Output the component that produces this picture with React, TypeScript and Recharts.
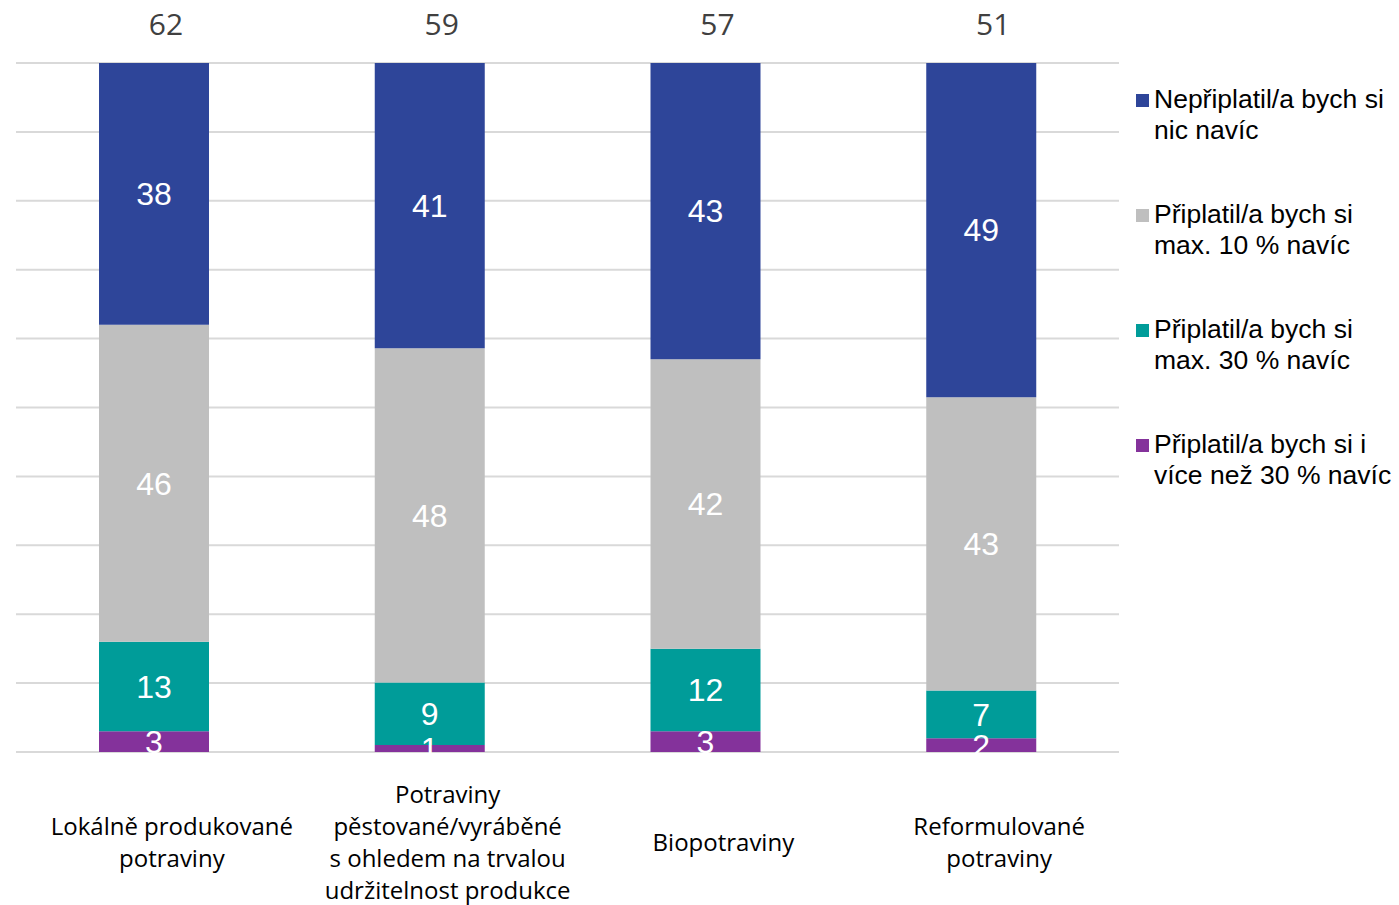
import { BarChart, Bar, XAxis, YAxis, CartesianGrid, LabelList } from 'recharts';

// kategorie potravin (zalomení řádků je součástí popisku)
const CATEGORIES = [
  'Lokálně produkované\npotraviny',
  'Potraviny\npěstované/vyráběné\ns ohledem na trvalou\nudržitelnost produkce',
  'Biopotraviny',
  'Reformulované\npotraviny',
];

// podíly odpovědí v %
const NIC_NAVIC = [38, 41, 43, 49];
const MAX_10 = [46, 48, 42, 43];
const MAX_30 = [13, 9, 12, 7];
const VICE_30 = [3, 1, 3, 2];

// součet těch, kteří by si připlatili
const TOTALS = [62, 59, 57, 51];

const Y_TICKS = [0, 0.1, 0.2, 0.3, 0.4, 0.5, 0.6, 0.7, 0.8, 0.9, 1];

// pořadí odspodu nahoru
const SERIES = [
  { key: 'vice30', name: 'Připlatil/a bych si i\nvíce než 30 % navíc', color: '#84329B', values: VICE_30 },
  { key: 'max30', name: 'Připlatil/a bych si\nmax. 30 % navíc', color: '#009C99', values: MAX_30 },
  { key: 'max10', name: 'Připlatil/a bych si\nmax. 10 % navíc', color: '#BFBFBF', values: MAX_10 },
  { key: 'nic', name: 'Nepřiplatil/a bych si\nnic navíc', color: '#2E4599', values: NIC_NAVIC },
];

const data = CATEGORIES.map((name, i) => {
  const row: Record<string, string | number> = { name };
  SERIES.forEach((s) => {
    row[s.key] = s.values[i];
  });
  return row;
});

const CategoryTick = ({ x, y, payload }: any) => {
  const lines = String(payload.value).split('\n');
  const lineH = 32;
  const center = y + 81;
  const first = center - ((lines.length - 1) * lineH) / 2;
  return (
    <text
      x={x + 18}
      textAnchor="middle"
      fill="#000"
      fontFamily="'Open Sans', sans-serif"
      fontSize={24}
    >
      {lines.map((line, i) => (
        <tspan key={i} x={x + 18} y={first + i * lineH} dominantBaseline="central">
          {line}
        </tspan>
      ))}
    </text>
  );
};

const TotalLabel = (props: any) => {
  const { x, y, width, index } = props;
  return (
    <text
      x={x + width / 2 + 12}
      y={y - 40}
      textAnchor="middle"
      dominantBaseline="central"
      fill="#404040"
      fontFamily="'Open Sans', sans-serif"
      fontSize={30}
    >
      {TOTALS[index]}
    </text>
  );
};

export default function App() {
  const legendItems = [...SERIES].reverse();
  return (
    <div style={{ position: 'absolute', left: 0, top: 0, width: 1399, height: 905, background: '#fff' }}>
      <BarChart
        width={1399}
        height={905}
        data={data}
        stackOffset="expand"
        barSize={110}
        margin={{ top: 63, right: 280, bottom: 33, left: 16 }}
      >
        <CartesianGrid vertical={false} stroke="#D9D9D9" strokeWidth={2} />
        <XAxis
          dataKey="name"
          axisLine={false}
          tickLine={false}
          height={120}
          interval={0}
          tick={<CategoryTick />}
        />
        <YAxis hide domain={[0, 1]} ticks={Y_TICKS} />
        {SERIES.map((s) => (
          <Bar key={s.key} dataKey={s.key} name={s.name} stackId="a" fill={s.color} isAnimationActive={false}>
            <LabelList
              dataKey={s.key}
              position="center"
              fill="#fff"
              fontSize={32}
              fontFamily="'Liberation Sans', Arial, sans-serif"
            />
            {s.key === 'nic' && <LabelList dataKey={s.key} content={<TotalLabel />} />}
          </Bar>
        ))}
      </BarChart>
      <div
        style={{
          position: 'absolute',
          left: 1136,
          top: 84,
          width: 263,
          fontFamily: "'Liberation Sans', Arial, sans-serif",
          fontSize: 26.5,
          lineHeight: '31px',
          color: '#000',
        }}
      >
        {legendItems.map((s) => (
          <div key={s.key} style={{ display: 'flex', alignItems: 'flex-start', height: 115 }}>
            <span
              style={{
                display: 'inline-block',
                width: 13,
                height: 13,
                background: s.color,
                marginTop: 10,
                marginRight: 5,
                flexShrink: 0,
              }}
            />
            <span style={{ whiteSpace: 'pre-line' }}>{s.name}</span>
          </div>
        ))}
      </div>
    </div>
  );
}
